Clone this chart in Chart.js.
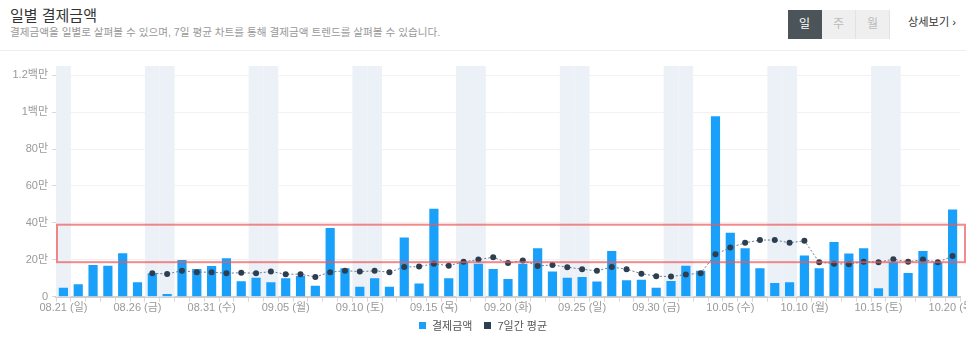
<!DOCTYPE html>
<html lang="ko">
<head>
<meta charset="utf-8">
<script src="https://cdn.jsdelivr.net/npm/chart.js@4/dist/chart.umd.min.js"></script>
<style>
  html, body { margin: 0; padding: 0; background: #fff; }
  body { width: 966px; height: 343px; position: relative; overflow: hidden;
         font-family: 'Liberation Sans', 'Noto Sans CJK KR', sans-serif; }
  .title { position: absolute; left: 10px; top: 5px; font-size: 15px; color: #333; line-height: 22px; }
  .desc { position: absolute; left: 10px; top: 25px; font-size: 10.6px; color: #999; line-height: 15px; }
  .sep { position: absolute; left: 0; right: 0; top: 50px; height: 1px; background: #eeeeee; }
  .btns { position: absolute; left: 788px; top: 10px; display: flex; }
  .btns div { width: 33px; height: 29px; line-height: 29px; text-align: center; font-size: 12px;
              background: #efefef; color: #bbb; border-right: 1px solid #e2e2e2; }
  .btns div.on { background: #4b5459; color: #fff; border-right: 1px solid #4b5459; }
  .more { position: absolute; left: 908px; top: 13px; font-size: 11.2px; color: #333; line-height: 18px; }
  .wrap { position: absolute; left: 0; top: 50px; width: 966px; height: 293px; }
  .legend { position: absolute; left: 0; width: 966px; top: 317px; height: 16px; display: flex;
            justify-content: center; align-items: center; font-size: 11px; color: #555; }
  .legend span.box { display: inline-block; width: 7px; height: 7px; margin-right: 6px; }
  .legend span.item { display: inline-flex; align-items: center; margin: 0 6px; }
</style>
</head>
<body>
<div class="title">일별 결제금액</div>
<div class="desc">결제금액을 일별로 살펴볼 수 있으며, 7일 평균 차트를 통해 결제금액 트렌드를 살펴볼 수 있습니다.</div>
<div class="btns"><div class="on">일</div><div>주</div><div>월</div></div>
<div class="more">상세보기 ›</div>
<div class="sep"></div>
<div class="wrap"><canvas id="Daily_Payment"></canvas></div>
<div class="legend" id="legend"></div>
<script>
var days = ['08.21 (일)','08.22 (월)','08.23 (화)','08.24 (수)','08.25 (목)','08.26 (금)','08.27 (토)',
  '08.28 (일)','08.29 (월)','08.30 (화)','08.31 (수)','09.01 (목)','09.02 (금)','09.03 (토)',
  '09.04 (일)','09.05 (월)','09.06 (화)','09.07 (수)','09.08 (목)','09.09 (금)','09.10 (토)',
  '09.11 (일)','09.12 (월)','09.13 (화)','09.14 (수)','09.15 (목)','09.16 (금)','09.17 (토)',
  '09.18 (일)','09.19 (월)','09.20 (화)','09.21 (수)','09.22 (목)','09.23 (금)','09.24 (토)',
  '09.25 (일)','09.26 (월)','09.27 (화)','09.28 (수)','09.29 (목)','09.30 (금)','10.01 (토)',
  '10.02 (일)','10.03 (월)','10.04 (화)','10.05 (수)','10.06 (목)','10.07 (금)','10.08 (토)',
  '10.09 (일)','10.10 (월)','10.11 (화)','10.12 (수)','10.13 (목)','10.14 (금)','10.15 (토)',
  '10.16 (일)','10.17 (월)','10.18 (화)','10.19 (수)','10.20 (목)'];

var payments = [49000, 67000, 172000, 168000, 236000, 78000, 127000,
  15000, 199000, 150000, 167000, 209000, 84000, 103000,
  78000, 100000, 112000, 60000, 372000, 154000, 54000,
  100000, 54000, 321000, 71000, 477000, 100000, 190000,
  178000, 150000, 96000, 178000, 263000, 136000, 103000,
  107000, 82000, 248000, 89000, 92000, 49000, 85000,
  168000, 140000, 978000, 346000, 263000, 154000, 74000,
  78000, 223000, 154000, 296000, 234000, 263000, 46000,
  187000, 129000, 248000, 187000, 473000];

var weekAvg = [null, null, null, null, null, null, 127000,
  123000, 141000, 133000, 133000, 127000, 130000, 127000,
  136000, 122000, 122000, 107000, 133000, 141000, 136000,
  140000, 133000, 161000, 163000, 179000, 168000, 189000,
  201000, 214000, 182000, 196000, 167000, 172000, 160000,
  149000, 140000, 161000, 149000, 125000, 111000, 109000,
  120000, 127000, 230000, 266000, 292000, 307000, 307000,
  292000, 303000, 187000, 179000, 176000, 190000, 187000,
  203000, 189000, 201000, 187000, 220000];

var yTicks = [0, 200000, 400000, 600000, 800000, 1000000, 1200000];
var highlightRange = [187000, 390000];

function isWeekend(label){
  return label.indexOf('토') >= 0 || label.indexOf('일)') >= 0;
}

function moneyLabel(v){
  if (v === 0) return '0';
  if (v >= 1000000) return (v / 1000000) + '백만';
  return (v / 10000) + '만';
}

var weekendBands = {
  id: 'weekendBands',
  beforeDatasetsDraw: function(chart){
    var ctx = chart.ctx, area = chart.chartArea, x = chart.scales.x;
    var w = x.getPixelForValue(1) - x.getPixelForValue(0);
    ctx.save();
    ctx.fillStyle = '#ecf1f7';
    for (var i = 0; i < days.length; i++) {
      if (!isWeekend(days[i])) continue;
      var l = Math.max(x.getPixelForValue(i) - w / 2, area.left);
      var r = Math.min(x.getPixelForValue(i) + w / 2, area.right);
      ctx.fillRect(l, area.top, r - l, area.bottom - area.top);
    }
    ctx.restore();
  }
};

var highlightBox = {
  id: 'highlightBox',
  afterDatasetsDraw: function(chart){
    var ctx = chart.ctx, area = chart.chartArea, y = chart.scales.y;
    var top = y.getPixelForValue(highlightRange[1]);
    var bottom = y.getPixelForValue(highlightRange[0]);
    ctx.save();
    ctx.strokeStyle = 'rgba(236,90,90,0.7)';
    ctx.lineWidth = 2;
    ctx.strokeRect(area.left + 1, top, chart.width - area.left - 2, bottom - top);
    ctx.restore();
  }
};

var font = "'Liberation Sans', 'Noto Sans CJK KR', sans-serif";

var myPaymentChart = new Chart(document.getElementById('Daily_Payment'), {
  type: 'bar',
  data: {
    labels: days,
    datasets: [{
      label: '결제금액',
      data: payments,
      backgroundColor: '#18a0fb',
      categoryPercentage: 1,
      barPercentage: 0.62,
      order: 2
    }, {
      type: 'line',
      label: '7일간 평균',
      data: weekAvg,
      borderColor: '#6b7c8c',
      borderWidth: 1,
      borderDash: [2, 2],
      backgroundColor: '#2c3e50',
      pointBackgroundColor: '#2c3e50',
      pointBorderWidth: 0,
      pointRadius: 3,
      tension: 0,
      fill: false,
      order: 1
    }]
  },
  options: {
    responsive: true,
    maintainAspectRatio: false,
    animation: false,
    layout: { padding: { top: 16, right: 6, bottom: 21, left: 0 } },
    plugins: {
      tooltip: { enabled: false },
      legend: { display: false }
    },
    scales: {
      x: {
        grid: { drawOnChartArea: false, drawTicks: true, tickLength: 5, tickColor: '#d8d8d8' },
        border: { color: '#d0d0d0', width: 2 },
        ticks: {
          autoSkip: false, maxRotation: 0, padding: 0,
          color: '#999', font: { family: font, size: 11 },
          callback: function(v, i){ return i % 5 === 0 ? days[i] : ''; }
        },
        afterFit: function(scale){ scale.height = 25.3; scale.paddingRight = 0; scale.paddingLeft = 0; }
      },
      y: {
        min: 0,
        max: 1250000,
        grid: { color: '#f2f2f2', tickLength: 4, tickColor: '#d8d8d8' },
        border: { color: '#eeeeee' },
        ticks: {
          padding: 4, color: '#999', font: { family: font, size: 11 },
          callback: function(v){ return moneyLabel(v); }
        },
        afterBuildTicks: function(scale){
          scale.ticks = yTicks.map(function(v){ return { value: v }; });
        },
        afterFit: function(scale){ scale.width = 56; }
      }
    }
  },
  plugins: [weekendBands, highlightBox]
});

// html legend built from the datasets
document.getElementById('legend').innerHTML = myPaymentChart.data.datasets.map(function(ds){
  var c = ds.type === 'line' ? ds.pointBackgroundColor : ds.backgroundColor;
  return '<span class="item"><span class="box" style="background:' + c + '"></span>' + ds.label + '</span>';
}).join('');
</script>
</body>
</html>
